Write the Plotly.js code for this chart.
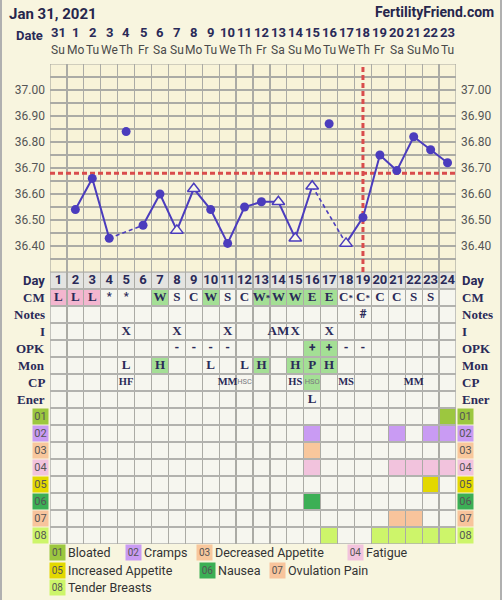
<!DOCTYPE html>
<html><head><meta charset="utf-8">
<script src="https://cdn.plot.ly/plotly-3.0.1.min.js"></script>
<style>html,body{margin:0;padding:0;background:#f8f5df;} #chart{width:502px;height:600px;}</style>
</head><body><div id="chart"></div>
<script>
// ---------- data ----------
const chartDate = 'Jan 31, 2021';
const siteName = 'FertilityFriend.com';
const dates = ['31','1','2','3','4','5','6','7','8','9','10','11','12','13','14','15','16','17','18','19','20','21','22','23'];
const weekdays = ['Su','Mo','Tu','We','Th','Fr','Sa','Su','Mo','Tu','We','Th','Fr','Sa','Su','Mo','Tu','We','Th','Fr','Sa','Su','Mo','Tu'];
const cycleDays = [1,2,3,4,5,6,7,8,9,10,11,12,13,14,15,16,17,18,19,20,21,22,23,24];
const temps = [null,36.54,36.66,36.43,36.84,36.48,36.60,36.46,36.62,36.54,36.41,36.55,36.57,36.57,36.43,36.63,36.87,36.41,36.51,36.75,36.69,36.82,36.77,36.72];
const excludedDays = [5,17];
const openMarkerDays = [8,9,14,15,16,18];
const coverline = 36.68;
const ovulationLineDay = 19;
const tempTicks = [36.40,36.50,36.60,36.70,36.80,36.90,37.00];

const cmValues = ['L','L','L','*','*','','W','S','C','W','S','C','W*','W','W','E','E','C*','C*','C','C','S','S',''];
const notesValues = ['','','','','','','','','','','','','','','','','','','#','','','','',''];
const intercourseValues = ['','','','','X','','','X','','','X','','','AM','X','','X','','','','','','',''];
const opkValues = ['','','','','','','','-','-','-','-','','','','','+','+','-','-','','','','',''];
const monValues = ['','','','','L','','H','','','L','','L','H','','H','P','H','','','','','','',''];
const cpValues = ['','','','','HF','','','','','','MM','HSC','','','HS','HSO','','MS','','','','MM','',''];
const enerValues = ['','','','','','','','','','','','','','','','L','','','','','','','',''];

const rowLabels = ['Day','CM','Notes','I','OPK','Mon','CP','Ener'];
const symptomCodes = ['01','02','03','04','05','06','07','08'];
const symptomNames = ['Bloated','Cramps','Decreased Appetite','Fatigue','Increased Appetite','Nausea','Ovulation Pain','Tender Breasts'];
const symptomColors = ['#9cc73f','#c99bf3','#f8c79c','#f2c3dd','#e3d800','#3caf55','#f8c49c','#cdf56a'];
const bloatedDays = [24];
const crampsDays = [16,21,23,24];
const decreasedAppetiteDays = [16];
const fatigueDays = [16,21,22,23,24];
const increasedAppetiteDays = [23];
const nauseaDays = [16];
const ovulationPainDays = [21,22];
const tenderBreastsDays = [17,20,21,22,23,24];
const symptomDays = [bloatedDays,crampsDays,decreasedAppetiteDays,fatigueDays,increasedAppetiteDays,nauseaDays,ovulationPainDays,tenderBreastsDays];

// ---------- styling / layout ----------
const W=502,H=600,ML=50,MR=46,MT=64,MB=56;
const plotW=W-ML-MR, plotH=H-MT-MB;
const split = 272/plotH;
const px = v => (v-ML)/plotW;
const py = v => (H-MB-v)/plotH;
const NAVY='#2a2a58', BLUE='#4b3cbd', RED='#d94c4c';
const GREEN='#a4df95', PINK='#f3b6cf';
const SERIF='Liberation Serif', SANS='Roboto';

// ---------- temperature traces ----------
const solidY = temps.map((t,i)=> excludedDays.includes(cycleDays[i]) ? null : t);
const dashX=[], dashY=[];
excludedDays.forEach(e=>{
  let p=e-1; while(p>=1 && (temps[p-1]===null || excludedDays.includes(p))) p--;
  let n=e+1; while(n<=24 && (temps[n-1]===null || excludedDays.includes(n))) n++;
  if(p>=1 && n<=24){ dashX.push(p,n,null); dashY.push(temps[p-1],temps[n-1],null); }
});
const circX=[],circY=[],triX=[],triY=[];
cycleDays.forEach((d,i)=>{ if(temps[i]===null) return;
  if(openMarkerDays.includes(d)){triX.push(d);triY.push(temps[i]);} else {circX.push(d);circY.push(temps[i]);} });

// ---------- table text ----------
const rowData = [null, cmValues, notesValues, intercourseValues, opkValues, monValues, cpValues, enerValues];
const tX=[],tY=[],tT=[],tF=[],tS=[],tC=[];
cycleDays.forEach((d,i)=>{ tX.push(d); tY.push(1); tT.push('<b>'+d+'</b>'); tF.push(SANS); tS.push(13); tC.push(NAVY); });
for(let r=1;r<rowData.length;r++){
  rowData[r].forEach((v,i)=>{ if(!v) return;
    tX.push(cycleDays[i]); tY.push(r+1);
    if(v==='HSC'||v==='HSO'){ tT.push(v); tF.push(SANS); tS.push(7.5); tC.push('#7a7a80'); }
    else if(r===6){ tT.push('<b>'+v+'</b>'); tF.push(SERIF); tS.push(10.5); tC.push(NAVY); }
    else if(v==='*'||v==='-'||v==='+'||v==='#'){ tT.push('<b>'+v+'</b>'); tF.push(SANS); tS.push(v==='*'?11:12); tC.push(NAVY); }
    else if(v.length===2 && v[1]==='*'){ tT.push('<b>'+v[0]+'<span style="font-size:9px">*</span></b>'); tF.push(SERIF); tS.push(13); tC.push(NAVY); }
    else { tT.push('<b>'+v+'</b>'); tF.push(SERIF); tS.push(13); tC.push(NAVY); }
  });
}

// ---------- shapes ----------
const shapes=[];
shapes.push({type:'rect',xref:'x',yref:'y',x0:0.5,x1:24.5,y0:36.3,y1:37.1,fillcolor:'#f8f3d8',line:{width:0},layer:'below'});
shapes.push({type:'rect',xref:'x',yref:'y2',x0:0.5,x1:24.5,y0:0.5,y1:16.5,fillcolor:'#f6f6ef',line:{width:0},layer:'below'});
shapes.push({type:'rect',xref:'x',yref:'y2',x0:0.5,x1:24.5,y0:0.5,y1:1.5,fillcolor:'#e4e4e1',line:{width:0},layer:'below'});
function cell(d,row,color){ shapes.push({type:'rect',xref:'x',yref:'y2',x0:d-0.5,x1:d+0.5,y0:row-0.5,y1:row+0.5,fillcolor:color,line:{width:0},layer:'below'}); }
cmValues.forEach((v,i)=>{ if(v==='L') cell(cycleDays[i],2,PINK); else if(v[0]==='W'||v==='E') cell(cycleDays[i],2,GREEN); });
opkValues.forEach((v,i)=>{ if(v==='+') cell(cycleDays[i],5,GREEN); });
monValues.forEach((v,i)=>{ if(v==='H'||v==='P') cell(cycleDays[i],6,GREEN); });
cpValues.forEach((v,i)=>{ if(v==='HSO') cell(cycleDays[i],7,GREEN); });
symptomDays.forEach((arr,k)=> arr.forEach(d=>cell(d,9+k,symptomColors[k])));
shapes.push({type:'rect',xref:'x',yref:'y',x0:0.5,x1:24.5,y0:36.3,y1:37.1,line:{color:'#a8a8a0',width:1.2},layer:'below'});
shapes.push({type:'rect',xref:'x',yref:'y2',x0:0.5,x1:24.5,y0:0.5,y1:16.5,line:{color:'#b2b2ae',width:1.5},layer:'below'});
shapes.push({type:'line',xref:'x',yref:'y',x0:0.5,x1:24.5,y0:coverline,y1:coverline,line:{color:RED,width:3,dash:'5px,3px'},layer:'between'});
shapes.push({type:'line',xref:'x',yref:'y',x0:ovulationLineDay,x1:ovulationLineDay,y0:36.3,y1:37.1,line:{color:RED,width:3,dash:'5px,3px'},layer:'between'});
shapes.push({type:'line',xref:'paper',yref:'paper',x0:px(1),x1:px(1),y0:py(600),y1:py(0),line:{color:'#b0b0b0',width:2}});
shapes.push({type:'line',xref:'paper',yref:'paper',x0:px(501),x1:px(501),y0:py(600),y1:py(0),line:{color:'#b0b0b0',width:2}});

// ---------- annotations ----------
const ann=[];
ann.push({xref:'paper',yref:'paper',x:px(7),y:py(14),xanchor:'left',yanchor:'middle',showarrow:false,text:'<b>'+chartDate+'</b>',font:{family:SANS,size:15,color:'#26264c'}});
ann.push({xref:'paper',yref:'paper',x:px(496),y:py(12),xanchor:'right',yanchor:'middle',showarrow:false,text:'<b>'+siteName+'</b>',font:{family:SANS,size:14,color:'#26264c'}});
ann.push({xref:'x',yref:'paper',x:0.5,xshift:-5,y:py(36),xanchor:'right',yanchor:'middle',showarrow:false,text:'<b>Date</b>',font:{family:SANS,size:13,color:NAVY}});
cycleDays.forEach((d,i)=>{
  ann.push({xref:'x',yref:'paper',x:d,y:py(33),xanchor:'center',yanchor:'middle',showarrow:false,text:'<b>'+dates[i]+'</b>',font:{family:SANS,size:13,color:NAVY}});
  ann.push({xref:'x',yref:'paper',x:d,y:py(50),xanchor:'center',yanchor:'middle',showarrow:false,text:weekdays[i],font:{family:SANS,size:12,color:'#4a4a4a'}});
});
rowLabels.forEach((lab,r)=>{
  const f = {family: r===0?SANS:SERIF, size:13, color:NAVY};
  ann.push({xref:'x',yref:'y2',x:0.5,xshift:-3,y:r+1,xanchor:'right',yanchor:'middle',showarrow:false,text:'<b>'+lab+'</b>',font:f});
  ann.push({xref:'x',yref:'y2',x:24.5,xshift:4,y:r+1,xanchor:'left',yanchor:'middle',showarrow:false,text:'<b>'+lab+'</b>',font:f});
});
symptomCodes.forEach((c,k)=>{
  ann.push({xref:'paper',yref:'y2',x:px(40),y:9+k,xanchor:'center',yanchor:'middle',showarrow:false,text:c,width:15,height:15,bgcolor:symptomColors[k],borderpad:0,font:{family:SANS,size:11,color:'#555'}});
  ann.push({xref:'paper',yref:'y2',x:px(465),y:9+k,xanchor:'center',yanchor:'middle',showarrow:false,text:c,width:15,height:15,bgcolor:symptomColors[k],borderpad:0,font:{family:SANS,size:11,color:'#555'}});
});
const legendPos=[[49,552],[125,552],[196,552],[347,552],[49,570],[199,570],[269,570],[49,587]];
symptomCodes.forEach((c,k)=>{
  const [lx,ly]=legendPos[k];
  ann.push({xref:'paper',yref:'paper',x:px(lx),y:py(ly),xanchor:'left',yanchor:'middle',showarrow:false,text:c,width:15,height:15,bgcolor:symptomColors[k],borderpad:0,font:{family:SANS,size:10,color:'#555'}});
  ann.push({xref:'paper',yref:'paper',x:px(lx+17),y:py(ly),xanchor:'left',yanchor:'middle',showarrow:false,text:symptomNames[k],font:{family:SANS,size:12.5,color:'#333'}});
});

// ---------- traces ----------
const traces=[
  {x:tX,y:tY,text:tT,mode:'text',xaxis:'x',yaxis:'y2',textposition:'middle center',textfont:{family:tF,size:tS,color:tC},hoverinfo:'skip',showlegend:false,cliponaxis:false},
  {x:cycleDays,y:solidY,mode:'lines',line:{color:BLUE,width:2},connectgaps:false,hoverinfo:'skip',showlegend:false},
  {x:dashX,y:dashY,mode:'lines',line:{color:BLUE,width:1.6,dash:'4px,3px'},connectgaps:false,hoverinfo:'skip',showlegend:false},
  {x:circX,y:circY,mode:'markers',marker:{color:BLUE,size:9,symbol:'circle'},hoverinfo:'skip',showlegend:false,cliponaxis:false},
  {x:triX,y:triY,mode:'markers',marker:{color:'#fbf8e8',size:11,symbol:'triangle-up',line:{color:BLUE,width:1.5}},hoverinfo:'skip',showlegend:false,cliponaxis:false},
  {x:cycleDays,y:temps,mode:'markers',yaxis:'y3',marker:{opacity:0},hoverinfo:'skip',showlegend:false}
];

const boundsX = cycleDays.map(d=>d-0.5).concat([24.5]);
const boundsRows = []; for(let i=0;i<=16;i++) boundsRows.push(i+0.5);
const tickFont={family:SANS,size:12,color:'#555'};
const layout={
  width:W,height:H,margin:{l:ML,r:MR,t:MT,b:MB,pad:0},
  paper_bgcolor:'#f8f5df',plot_bgcolor:'#f8f5df',showlegend:false,
  xaxis:{range:[0.5,24.5],tickvals:boundsX,showticklabels:false,ticks:'',showgrid:true,gridcolor:'#ababa5',gridwidth:1.2,zeroline:false,showline:false,fixedrange:true},
  yaxis:{domain:[split,1],range:[36.3,37.1],tickvals:tempTicks,ticktext:tempTicks.map(v=>v.toFixed(2)),tickfont:tickFont,ticks:'',ticklabelstandoff:4,showgrid:true,gridcolor:'#ababa5',gridwidth:1.2,minor:{tick0:36.3,dtick:0.05,showgrid:true,gridcolor:'#ababa5',gridwidth:1.2,ticks:''},zeroline:false,fixedrange:true},
  yaxis3:{overlaying:'y',side:'right',anchor:'x',range:[36.3,37.1],tickvals:tempTicks,ticktext:tempTicks.map(v=>v.toFixed(2)),tickfont:tickFont,ticks:'',ticklabelstandoff:4,showgrid:false,zeroline:false,fixedrange:true},
  yaxis2:{domain:[0,split],range:[16.5,0.5],tickvals:boundsRows,showticklabels:false,ticks:'',showgrid:true,gridcolor:'#b2b2ae',gridwidth:1.5,zeroline:false,anchor:'x',fixedrange:true},
  shapes:shapes,annotations:ann,font:{family:SANS}
};
Plotly.newPlot('chart',traces,layout,{displayModeBar:false,staticPlot:true});
</script></body></html>
